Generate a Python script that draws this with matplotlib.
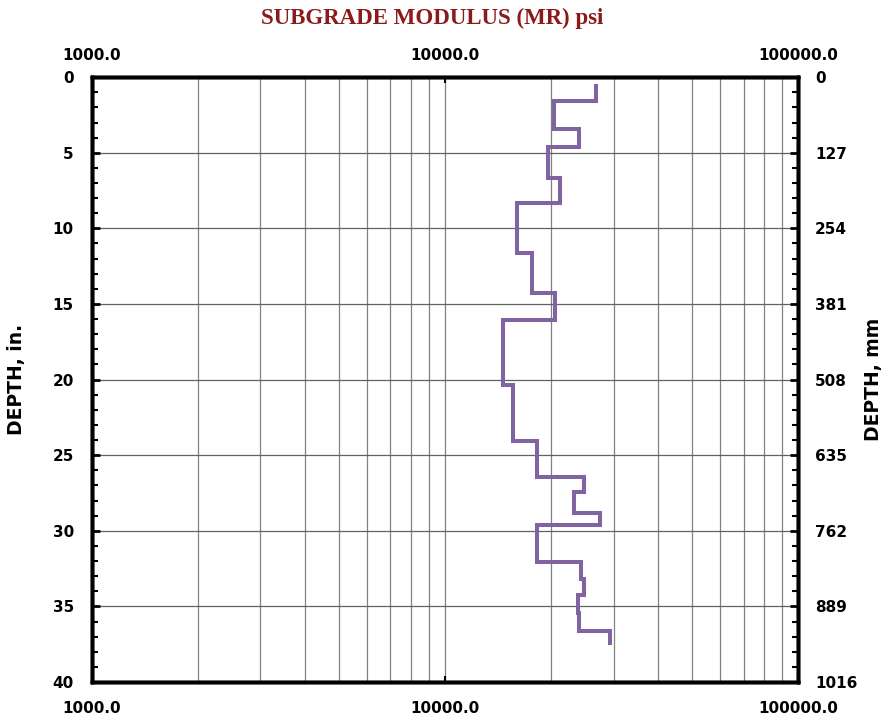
import numpy as np
import matplotlib
matplotlib.use("Agg")
import matplotlib.pyplot as plt
from matplotlib.ticker import FixedLocator, FuncFormatter, MultipleLocator, NullFormatter

# layer boundaries (in.) and resilient modulus of each layer (psi)
depth_top = [0.6, 1.6, 3.45, 4.65, 6.7, 8.35, 11.65, 14.3, 16.05, 20.35,
             24.05, 26.45, 27.45, 28.8, 29.6, 32.05, 33.2, 34.25, 35.45, 36.65]
depth_bottom = depth_top[1:] + [37.4]
modulus = [26700, 20300, 24000, 19600, 21100, 16000, 17600, 20500, 14550, 15600,
           18150, 24700, 23200, 27500, 18250, 24300, 24650, 23700, 23900, 29200]

x_ticks = [1000, 10000, 100000]
depth_ticks_in = [0, 5, 10, 15, 20, 25, 30, 35, 40]
depth_ticks_mm = [d * 25.4 for d in depth_ticks_in]

# build the stepped profile from the layer table
xs = np.repeat(modulus, 2)
ys = np.column_stack([depth_top, depth_bottom]).ravel()

plt.rcParams['font.family'] = ['DejaVu Sans']
plt.rcParams['font.weight'] = 'bold'

fmt = FuncFormatter(lambda v, p: f"{v:.1f}")

fig = plt.figure(figsize=(8.93, 7.21), dpi=100)
ax = fig.add_axes([0.103, 0.054, 0.791, 0.839])

ax.plot(xs, ys, color='#8064A2', lw=2.9, solid_joinstyle='miter', zorder=3)

ax.set_xscale('log')
ax.set_xlim(1000, 100000)
ax.set_ylim(40, 0)

ax.xaxis.set_major_locator(FixedLocator(x_ticks))
ax.xaxis.set_major_formatter(fmt)
ax.xaxis.set_minor_formatter(NullFormatter())
ax.set_yticks(depth_ticks_in)
ax.yaxis.set_minor_locator(MultipleLocator(1))

ax.grid(True, which='both', axis='x', color='#808080', lw=0.9)
ax.grid(True, which='major', axis='y', color='#606060', lw=0.9)

ax.tick_params(axis='x', which='major', direction='in', length=4, width=1.5,
               labelsize=11, pad=13.5)
ax.tick_params(axis='x', which='minor', length=0)
ax.tick_params(axis='y', which='major', direction='in', length=6, width=2,
               labelsize=11, pad=13)
ax.tick_params(axis='y', which='minor', direction='in', length=4, width=1.5)

for s in ax.spines.values():
    s.set_linewidth(2.5)

ax.set_ylabel('DEPTH, in.', fontsize=13.5, fontweight='bold', labelpad=19)

# second depth scale in millimetres
ax2 = ax.twinx()
ax2.set_ylim(1016, 0)
ax2.set_yticks(depth_ticks_mm)
ax2.set_yticklabels([f"{v:.0f}" for v in depth_ticks_mm])
ax2.yaxis.set_minor_locator(MultipleLocator(25.4))
ax2.tick_params(axis='y', which='major', direction='in', length=6, width=2,
                labelsize=11, pad=12)
ax2.tick_params(axis='y', which='minor', direction='in', length=4, width=1.5)
for s in ax2.spines.values():
    s.set_linewidth(2.5)
ax2.set_ylabel('DEPTH, mm', fontsize=13.5, fontweight='bold', labelpad=5)

# modulus labels repeated along the top edge
ax3 = ax.twiny()
ax3.set_xscale('log')
ax3.set_xlim(1000, 100000)
ax3.xaxis.set_major_locator(FixedLocator(x_ticks))
ax3.xaxis.set_major_formatter(fmt)
ax3.xaxis.set_minor_formatter(NullFormatter())
ax3.tick_params(axis='x', which='major', direction='in', length=4, width=1.5,
                labelsize=11, pad=10)
ax3.tick_params(axis='x', which='minor', length=0)
for s in ax3.spines.values():
    s.set_linewidth(2.5)

fig.text(0.484, 0.975, 'SUBGRADE MODULUS (MR) psi', ha='center', va='center',
         fontsize=16.5, fontweight='bold', color='#8B1A1A',
         family=['Liberation Serif', 'DejaVu Serif'])

fig.savefig('out.png', dpi=100)
